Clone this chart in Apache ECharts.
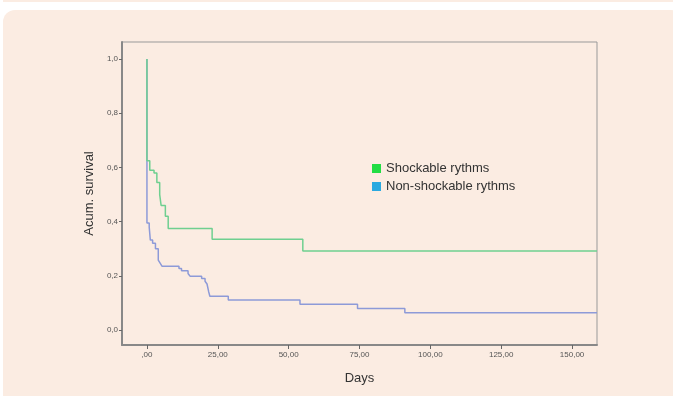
<!DOCTYPE html>
<html>
<head>
<meta charset="utf-8">
<script src="https://cdn.jsdelivr.net/npm/echarts@6/dist/echarts.min.js"></script>
<style>
  html, body { margin: 0; padding: 0; background: #fff; }
  .strip { position: absolute; left: 3px; top: 0; width: 670px; height: 2px; background: #fbece2; }
  .card { position: absolute; left: 3px; top: 10px; width: 680px; height: 400px; background: #fbece2; border-radius: 12px; }
  #chart { position: absolute; left: 0; top: 0; width: 673px; height: 396px; }
</style>
</head>
<body>
<div class="strip"></div>
<div class="card"></div>
<div id="chart"></div>
<script>
// Kaplan-Meier steps: [day, survival after event]
const shockable = [
  [0, 1.0], [0, 0.625], [1, 0.59], [2.5, 0.58], [3.5, 0.545], [4.5, 0.50],
  [5, 0.46], [6.5, 0.42], [7.5, 0.375], [23, 0.335], [55, 0.292], [158.8, 0.292]
]
const nonShockable = [
  [0, 1.0], [0, 0.395], [0.8, 0.38], [1.2, 0.332], [2, 0.32], [3, 0.30],
  [4, 0.258], [4.6, 0.248], [5.3, 0.236], [11.3, 0.227], [12.2, 0.219],
  [14.5, 0.209], [15.2, 0.199], [19.3, 0.19], [20.5, 0.18], [21.2, 0.17],
  [21.8, 0.141], [22.2, 0.125], [28.7, 0.111], [54, 0.095], [74.3, 0.08],
  [91, 0.064], [158.8, 0.064]
]
const xTicks = [0, 25, 50, 75, 100, 125, 150]
const yTicks = [0, 0.2, 0.4, 0.6, 0.8, 1.0]
const seriesNames = ['Shockable rythms', 'Non-shockable rythms']

const chart = echarts.init(document.getElementById('chart'))

const tickLabel = { color: '#555', fontSize: 8, fontFamily: 'Liberation Sans' }
const nameFont = { color: '#333', fontSize: 13, fontFamily: 'Liberation Sans' }

const option = {
  animation: false,
  backgroundColor: 'transparent',
  grid: {
    left: 122, top: 42, right: 76, bottom: 51,
    show: true, borderColor: '#999', borderWidth: 1
  },
  legend: {
    orient: 'vertical',
    left: 367, top: 157,
    itemWidth: 9, itemHeight: 9, itemGap: 5,
    icon: 'rect',
    textStyle: { color: '#333', fontSize: 13, fontFamily: 'Liberation Sans' },
    data: [
      { name: seriesNames[0], itemStyle: { color: '#22dd44' } },
      { name: seriesNames[1], itemStyle: { color: '#2aa9e0' } }
    ]
  },
  xAxis: {
    type: 'value',
    min: -8.8, max: 158.8,
    name: 'Days', nameLocation: 'middle', nameGap: 27,
    nameTextStyle: nameFont,
    axisLine: { show: true, onZero: false, lineStyle: { color: '#888', width: 2 } },
    axisTick: { show: true, customValues: xTicks, length: 4, lineStyle: { color: '#666' } },
    axisLabel: {
      customValues: xTicks, ...tickLabel, margin: 6,
      formatter: v => v === 0 ? ',00' : v.toFixed(2).replace('.', ',')
    },
    splitLine: { show: false }
  },
  yAxis: {
    type: 'value',
    min: -0.055, max: 1.063,
    name: 'Acum. survival', nameLocation: 'middle', nameGap: 23,
    nameTextStyle: nameFont,
    axisLine: { show: true, onZero: false, lineStyle: { color: '#888', width: 2 } },
    axisTick: { show: true, customValues: yTicks, length: 3, lineStyle: { color: '#666' } },
    axisLabel: {
      customValues: yTicks, ...tickLabel, margin: 4,
      formatter: v => v.toFixed(1).replace('.', ',')
    },
    splitLine: { show: false }
  },
  series: [
    {
      name: seriesNames[0], type: 'line', step: 'end', data: shockable,
      showSymbol: false, color: '#22dd44', z: 3,
      lineStyle: { color: '#6fcf90', width: 1.5 }
    },
    {
      name: seriesNames[1], type: 'line', step: 'end', data: nonShockable,
      showSymbol: false, color: '#2aa9e0', z: 2,
      lineStyle: { color: '#8d9ad8', width: 1.5 }
    }
  ]
}

chart.setOption(option)
</script>
</body>
</html>
